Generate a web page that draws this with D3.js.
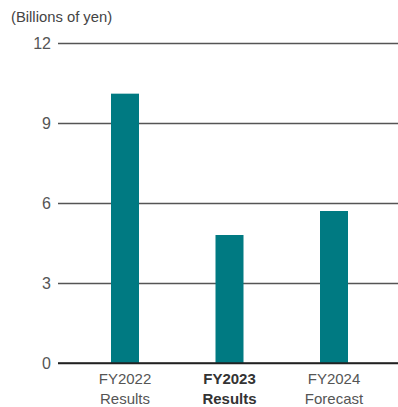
<!DOCTYPE html>
<html><head><meta charset="utf-8">
<script src="https://cdn.jsdelivr.net/npm/d3@7"></script>
<style>body{margin:0;background:#fff;}svg{display:block;font-family:"Liberation Sans",Arial,sans-serif;}</style>
</head><body>
<svg id="c" width="398" height="407"></svg>
<script>
const categories = ["FY2022", "FY2023", "FY2024"];
const subLabels = ["Results", "Results", "Forecast"];
const values = [10.1, 4.8, 5.7];
const yTicks = [0, 3, 6, 9, 12];
const unitLabel = "(Billions of yen)";
const highlight = "FY2023";

const svg = d3.select("#c");
const y = d3.scaleLinear().domain([0, 12]).range([363, 43]);
const x = d3.scaleBand().domain(categories).range([72.75, 386.25]).padding(0);
const barW = 28;

svg.append("text").attr("x", 11).attr("y", 22).attr("font-size", 14.8).attr("fill", "#444").text(unitLabel);

const yAxis = d3.axisLeft(y).tickValues(yTicks).tickSize(-340).tickPadding(7);
const gy = svg.append("g").attr("transform", "translate(58,0)").call(yAxis);
gy.select(".domain").remove();
gy.selectAll(".tick line").attr("stroke", d => d === 0 ? "#222" : "#555").attr("stroke-width", d => d === 0 ? 1.6 : 1.3);
gy.selectAll(".tick text").attr("font-size", 16).attr("fill", "#555").attr("font-family", "Liberation Sans, Arial, sans-serif").attr("dy", "0.36em");

svg.append("g").selectAll("rect").data(values).join("rect")
  .attr("x", (d, i) => x(categories[i]) + x.bandwidth() / 2 - barW / 2)
  .attr("width", barW)
  .attr("y", d => y(d))
  .attr("height", d => y(0) - y(d))
  .attr("fill", "#007a82");

// redraw zero line over bars
svg.append("line").attr("x1", 58).attr("x2", 398).attr("y1", y(0)).attr("y2", y(0)).attr("stroke", "#222").attr("stroke-width", 1.6);

const xl = svg.append("g").selectAll("text").data(categories).join("text")
  .attr("x", d => x(d) + x.bandwidth() / 2)
  .attr("text-anchor", "middle")
  .attr("font-size", 15)
  .attr("fill", d => d === highlight ? "#333" : "#555")
  .attr("font-weight", d => d === highlight ? "bold" : "normal");
xl.append("tspan").attr("x", d => x(d) + x.bandwidth() / 2).attr("y", 384).text(d => d);
xl.append("tspan").attr("x", d => x(d) + x.bandwidth() / 2).attr("y", 404).text((d, i) => subLabels[i]);
</script>
</body></html>
